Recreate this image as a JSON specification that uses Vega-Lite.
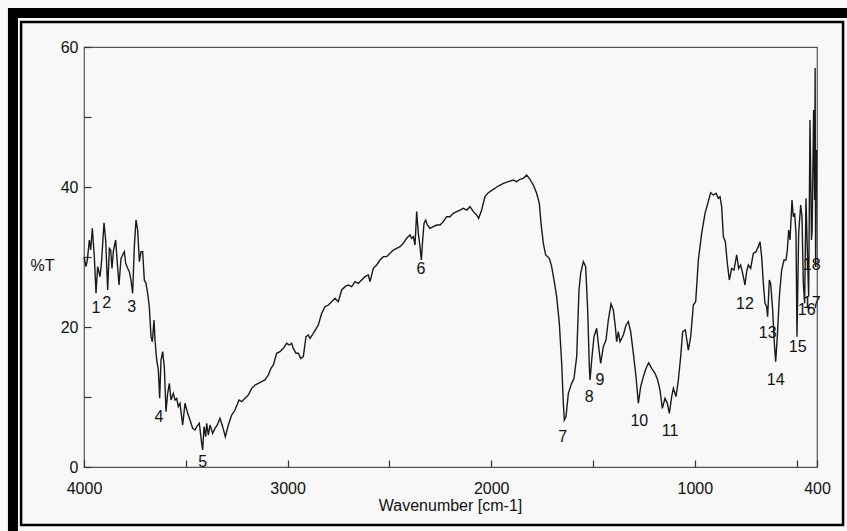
{
  "$schema": "https://vega.github.io/schema/vega-lite/v6.json",
  "width": 733,
  "height": 420,
  "autosize": {"type": "none"},
  "padding": {"left": 84, "top": 47, "right": 30, "bottom": 64},
  "background": "#f8f8f8",
  "config": {
    "font": "Liberation Sans",
    "view": {"stroke": "#555555", "strokeWidth": 1.2, "fill": "#f8f8f8"},
    "axis": {"grid": false, "domain": false, "labelFont": "Liberation Sans", "titleFont": "Liberation Sans", "labelFontSize": 16, "titleFontSize": 16, "titleFontWeight": "normal", "labelColor": "#111111", "titleColor": "#111111", "tickColor": "#333333", "tickWidth": 1.2, "labelFlush": false, "labelOverlap": false}
  },
  "datasets": {
    "spec": [
      {"wn": 4000, "t": 30.0}, {"wn": 3990.2, "t": 28.62}, {"wn": 3983.6, "t": 29.57}, {"wn": 3973.8, "t": 32.43}, {"wn": 3967.2, "t": 31.0},
      {"wn": 3959.1, "t": 34.1}, {"wn": 3949.3, "t": 30.05}, {"wn": 3941.1, "t": 24.81}, {"wn": 3932.9, "t": 28.62}, {"wn": 3921.4, "t": 27.19},
      {"wn": 3913.2, "t": 29.57}, {"wn": 3901.8, "t": 34.9}, {"wn": 3893.6, "t": 32.43}, {"wn": 3883.7, "t": 25.29}, {"wn": 3875.6, "t": 31.24},
      {"wn": 3869.0, "t": 31.0}, {"wn": 3862.5, "t": 28.38}, {"wn": 3856.0, "t": 30.76}, {"wn": 3844.5, "t": 32.43}, {"wn": 3836.3, "t": 29.1},
      {"wn": 3828.1, "t": 26.0}, {"wn": 3818.3, "t": 29.81}, {"wn": 3810.1, "t": 30.29}, {"wn": 3801.9, "t": 30.76}, {"wn": 3795.3, "t": 29.1},
      {"wn": 3785.5, "t": 28.38}, {"wn": 3777.4, "t": 27.9}, {"wn": 3769.2, "t": 26.71}, {"wn": 3761.0, "t": 24.81}, {"wn": 3752.8, "t": 31.48},
      {"wn": 3744.6, "t": 35.29}, {"wn": 3736.4, "t": 33.86}, {"wn": 3728.2, "t": 29.33}, {"wn": 3720.0, "t": 30.76}, {"wn": 3711.9, "t": 30.76},
      {"wn": 3703.7, "t": 26.71}, {"wn": 3695.5, "t": 26.24}, {"wn": 3687.3, "t": 24.81}, {"wn": 3679.2, "t": 22.9}, {"wn": 3670.9, "t": 18.62},
      {"wn": 3664.4, "t": 17.9}, {"wn": 3656.2, "t": 21.0}, {"wn": 3651.3, "t": 18.14}, {"wn": 3643.1, "t": 15.29}, {"wn": 3634.9, "t": 13.86},
      {"wn": 3628.4, "t": 9.81}, {"wn": 3621.8, "t": 15.29}, {"wn": 3613.6, "t": 16.48}, {"wn": 3605.5, "t": 14.33}, {"wn": 3597.3, "t": 7.9},
      {"wn": 3589.1, "t": 10.52}, {"wn": 3580.9, "t": 11.95}, {"wn": 3572.7, "t": 9.57}, {"wn": 3561.3, "t": 10.52}, {"wn": 3553.1, "t": 9.57},
      {"wn": 3544.9, "t": 9.81}, {"wn": 3536.7, "t": 8.62}, {"wn": 3528.5, "t": 9.1}, {"wn": 3515.4, "t": 6.0}, {"wn": 3503.9, "t": 9.1},
      {"wn": 3490.8, "t": 7.67}, {"wn": 3479.4, "t": 6.71}, {"wn": 3466.3, "t": 5.52}, {"wn": 3454.8, "t": 5.29}, {"wn": 3446.6, "t": 5.76},
      {"wn": 3433.6, "t": 6.24}, {"wn": 3422.1, "t": 3.38}, {"wn": 3417.2, "t": 2.43}, {"wn": 3410.6, "t": 5.76}, {"wn": 3402.5, "t": 4.33},
      {"wn": 3397.5, "t": 6.24}, {"wn": 3389.4, "t": 4.57}, {"wn": 3381.2, "t": 6.0}, {"wn": 3368.1, "t": 4.81}, {"wn": 3356.6, "t": 5.52},
      {"wn": 3345.2, "t": 6.0}, {"wn": 3332.1, "t": 6.95}, {"wn": 3319.0, "t": 5.76}, {"wn": 3305.9, "t": 4.33}, {"wn": 3291.1, "t": 6.0},
      {"wn": 3274.8, "t": 7.43}, {"wn": 3258.4, "t": 8.14}, {"wn": 3238.7, "t": 9.57}, {"wn": 3225.6, "t": 9.33}, {"wn": 3209.3, "t": 9.81},
      {"wn": 3192.9, "t": 10.29}, {"wn": 3176.5, "t": 11.24}, {"wn": 3160.2, "t": 11.71}, {"wn": 3143.8, "t": 11.95}, {"wn": 3127.4, "t": 12.19},
      {"wn": 3111.1, "t": 12.43}, {"wn": 3094.7, "t": 13.14}, {"wn": 3081.6, "t": 14.1}, {"wn": 3070.1, "t": 14.57}, {"wn": 3053.7, "t": 16.24},
      {"wn": 3037.4, "t": 16.48}, {"wn": 3021.0, "t": 16.95}, {"wn": 3004.6, "t": 17.67}, {"wn": 2991.5, "t": 17.43}, {"wn": 2980.1, "t": 17.67},
      {"wn": 2971.9, "t": 16.95}, {"wn": 2958.8, "t": 16.24}, {"wn": 2947.3, "t": 16.24}, {"wn": 2935.9, "t": 15.52}, {"wn": 2922.8, "t": 15.76},
      {"wn": 2909.7, "t": 18.62}, {"wn": 2898.2, "t": 18.86}, {"wn": 2890.0, "t": 18.38}, {"wn": 2873.7, "t": 19.1}, {"wn": 2849.1, "t": 20.29},
      {"wn": 2832.8, "t": 21.95}, {"wn": 2816.4, "t": 22.9}, {"wn": 2800.0, "t": 23.14}, {"wn": 2783.6, "t": 23.62}, {"wn": 2767.2, "t": 24.1},
      {"wn": 2750.9, "t": 23.62}, {"wn": 2734.5, "t": 25.29}, {"wn": 2718.1, "t": 25.76}, {"wn": 2701.8, "t": 26.0}, {"wn": 2685.4, "t": 25.76},
      {"wn": 2669.0, "t": 26.48}, {"wn": 2652.7, "t": 26.24}, {"wn": 2636.3, "t": 26.71}, {"wn": 2619.9, "t": 27.19}, {"wn": 2603.6, "t": 27.43},
      {"wn": 2595.4, "t": 26.48}, {"wn": 2579.0, "t": 28.38}, {"wn": 2562.6, "t": 28.86}, {"wn": 2546.3, "t": 29.57}, {"wn": 2529.9, "t": 30.05},
      {"wn": 2513.5, "t": 30.05}, {"wn": 2497.1, "t": 30.52}, {"wn": 2480.8, "t": 31.0}, {"wn": 2464.4, "t": 31.24}, {"wn": 2448.0, "t": 31.48},
      {"wn": 2431.7, "t": 31.95}, {"wn": 2415.3, "t": 32.67}, {"wn": 2398.9, "t": 33.14}, {"wn": 2390.7, "t": 32.67}, {"wn": 2382.5, "t": 32.9},
      {"wn": 2374.3, "t": 31.71}, {"wn": 2366.1, "t": 36.48}, {"wn": 2358.0, "t": 33.38}, {"wn": 2349.8, "t": 31.48}, {"wn": 2343.2, "t": 29.57},
      {"wn": 2336.7, "t": 32.43}, {"wn": 2330.1, "t": 34.81}, {"wn": 2321.9, "t": 35.29}, {"wn": 2313.8, "t": 34.57}, {"wn": 2300.7, "t": 34.1},
      {"wn": 2284.3, "t": 34.33}, {"wn": 2267.9, "t": 34.57}, {"wn": 2251.6, "t": 34.57}, {"wn": 2235.2, "t": 35.05}, {"wn": 2218.8, "t": 35.76},
      {"wn": 2202.5, "t": 35.76}, {"wn": 2186.1, "t": 36.24}, {"wn": 2169.7, "t": 36.48}, {"wn": 2153.4, "t": 36.71}, {"wn": 2137.0, "t": 36.95},
      {"wn": 2120.6, "t": 36.71}, {"wn": 2104.2, "t": 37.19}, {"wn": 2087.9, "t": 36.48}, {"wn": 2071.5, "t": 36.0}, {"wn": 2061.7, "t": 35.52},
      {"wn": 2047.0, "t": 36.71}, {"wn": 2030.6, "t": 38.62}, {"wn": 2014.2, "t": 39.19}, {"wn": 1989.6, "t": 39.67}, {"wn": 1965.1, "t": 40.14},
      {"wn": 1940.5, "t": 40.52}, {"wn": 1916.0, "t": 40.76}, {"wn": 1891.4, "t": 41.0}, {"wn": 1875.0, "t": 40.76}, {"wn": 1858.7, "t": 41.1},
      {"wn": 1842.3, "t": 41.24}, {"wn": 1825.9, "t": 41.71}, {"wn": 1809.6, "t": 41.1}, {"wn": 1793.2, "t": 40.29}, {"wn": 1776.8, "t": 39.1},
      {"wn": 1763.7, "t": 37.67}, {"wn": 1755.5, "t": 34.81}, {"wn": 1744.0, "t": 31.95}, {"wn": 1732.6, "t": 30.29}, {"wn": 1714.6, "t": 29.81},
      {"wn": 1703.1, "t": 28.62}, {"wn": 1691.6, "t": 26.71}, {"wn": 1678.6, "t": 24.33}, {"wn": 1665.5, "t": 20.52}, {"wn": 1654.0, "t": 14.81},
      {"wn": 1645.8, "t": 9.1}, {"wn": 1640.9, "t": 6.71}, {"wn": 1632.7, "t": 7.19}, {"wn": 1621.2, "t": 10.52}, {"wn": 1604.9, "t": 11.95},
      {"wn": 1593.4, "t": 12.67}, {"wn": 1580.3, "t": 15.76}, {"wn": 1568.9, "t": 25.29}, {"wn": 1560.7, "t": 27.67}, {"wn": 1547.6, "t": 29.33},
      {"wn": 1536.1, "t": 28.62}, {"wn": 1526.3, "t": 22.43}, {"wn": 1518.1, "t": 14.33}, {"wn": 1514.8, "t": 12.43}, {"wn": 1505.0, "t": 15.76},
      {"wn": 1495.2, "t": 18.62}, {"wn": 1482.1, "t": 19.81}, {"wn": 1472.3, "t": 17.19}, {"wn": 1462.5, "t": 14.81}, {"wn": 1449.4, "t": 17.19},
      {"wn": 1436.3, "t": 18.14}, {"wn": 1424.8, "t": 21.0}, {"wn": 1411.7, "t": 23.29}, {"wn": 1400.3, "t": 22.43}, {"wn": 1390.4, "t": 20.05},
      {"wn": 1383.9, "t": 17.9}, {"wn": 1375.7, "t": 19.33}, {"wn": 1367.5, "t": 17.9}, {"wn": 1351.1, "t": 18.86}, {"wn": 1338.0, "t": 20.29},
      {"wn": 1326.6, "t": 20.76}, {"wn": 1315.1, "t": 19.33}, {"wn": 1302.0, "t": 16.24}, {"wn": 1288.9, "t": 12.9}, {"wn": 1277.5, "t": 9.1},
      {"wn": 1266.0, "t": 11.48}, {"wn": 1252.9, "t": 12.9}, {"wn": 1239.8, "t": 14.1}, {"wn": 1226.7, "t": 14.9}, {"wn": 1212.0, "t": 14.1},
      {"wn": 1195.6, "t": 13.38}, {"wn": 1182.5, "t": 12.43}, {"wn": 1171.0, "t": 11.0}, {"wn": 1159.6, "t": 8.38}, {"wn": 1146.5, "t": 9.81},
      {"wn": 1135.0, "t": 9.1}, {"wn": 1125.2, "t": 7.67}, {"wn": 1113.7, "t": 10.05}, {"wn": 1105.5, "t": 11.24}, {"wn": 1092.4, "t": 10.05},
      {"wn": 1081.0, "t": 12.43}, {"wn": 1069.5, "t": 15.76}, {"wn": 1059.7, "t": 19.33}, {"wn": 1046.6, "t": 19.57}, {"wn": 1031.9, "t": 16.71},
      {"wn": 1020.4, "t": 18.62}, {"wn": 1007.3, "t": 23.14}, {"wn": 995.8, "t": 23.62}, {"wn": 982.7, "t": 29.57}, {"wn": 966.4, "t": 33.38},
      {"wn": 950.0, "t": 36.24}, {"wn": 938.5, "t": 37.43}, {"wn": 922.2, "t": 39.19}, {"wn": 909.1, "t": 38.86}, {"wn": 896.0, "t": 39.1},
      {"wn": 884.5, "t": 38.38}, {"wn": 876.3, "t": 38.62}, {"wn": 868.2, "t": 37.19}, {"wn": 860.0, "t": 32.9}, {"wn": 850.2, "t": 32.19},
      {"wn": 840.4, "t": 29.1}, {"wn": 830.6, "t": 26.71}, {"wn": 819.1, "t": 28.38}, {"wn": 807.6, "t": 28.14}, {"wn": 794.5, "t": 30.29},
      {"wn": 784.7, "t": 28.38}, {"wn": 774.9, "t": 28.86}, {"wn": 765.1, "t": 27.67}, {"wn": 753.6, "t": 26.0}, {"wn": 745.5, "t": 27.9},
      {"wn": 737.3, "t": 28.86}, {"wn": 725.8, "t": 28.38}, {"wn": 712.7, "t": 30.52}, {"wn": 699.6, "t": 30.76}, {"wn": 688.2, "t": 31.48},
      {"wn": 680.0, "t": 32.19}, {"wn": 671.8, "t": 30.05}, {"wn": 663.6, "t": 26.24}, {"wn": 655.5, "t": 23.38}, {"wn": 647.3, "t": 22.9},
      {"wn": 642.4, "t": 21.48}, {"wn": 634.2, "t": 26.71}, {"wn": 627.6, "t": 26.24}, {"wn": 617.8, "t": 22.43}, {"wn": 609.6, "t": 17.67},
      {"wn": 603.0, "t": 15.05}, {"wn": 594.9, "t": 18.62}, {"wn": 585.0, "t": 24.33}, {"wn": 573.6, "t": 28.14}, {"wn": 562.1, "t": 29.57},
      {"wn": 552.3, "t": 29.57}, {"wn": 545.7, "t": 31.0}, {"wn": 539.2, "t": 33.86}, {"wn": 532.6, "t": 32.43}, {"wn": 522.8, "t": 38.14},
      {"wn": 516.3, "t": 35.76}, {"wn": 509.7, "t": 36.24}, {"wn": 503.2, "t": 33.38}, {"wn": 498.3, "t": 18.62}, {"wn": 490.1, "t": 33.38},
      {"wn": 480.3, "t": 37.43}, {"wn": 473.7, "t": 35.76}, {"wn": 467.2, "t": 26.24}, {"wn": 460.6, "t": 23.38}, {"wn": 454.1, "t": 38.38},
      {"wn": 447.5, "t": 31.0}, {"wn": 441.0, "t": 24.33}, {"wn": 434.4, "t": 49.57}, {"wn": 427.0, "t": 32.43}, {"wn": 423.9, "t": 33.86},
      {"wn": 416.5, "t": 51.0}, {"wn": 411.6, "t": 38.14}, {"wn": 409.2, "t": 57.0}, {"wn": 406.7, "t": 28.57}, {"wn": 401.8, "t": 45.3}
    ],
    "peaks": [
      {"label": "1", "wn": 3941.1, "t": 22.71}, {"label": "2", "wn": 3888.5, "t": 23.38}, {"label": "3", "wn": 3765.7, "t": 22.9},
      {"label": "4", "wn": 3631.6, "t": 7.19}, {"label": "5", "wn": 3417.0, "t": 0.76}, {"label": "6", "wn": 2344.9, "t": 28.24},
      {"label": "7", "wn": 1649.0, "t": 4.24}, {"label": "8", "wn": 1518.3, "t": 10.05}, {"label": "9", "wn": 1465.7, "t": 12.43},
      {"label": "10", "wn": 1272.8, "t": 6.61}, {"label": "11", "wn": 1122.0, "t": 5.19}, {"label": "12", "wn": 753.6, "t": 23.29},
      {"label": "13", "wn": 642.2, "t": 19.19}, {"label": "14", "wn": 602.8, "t": 12.43}, {"label": "15", "wn": 494.8, "t": 17.19},
      {"label": "16", "wn": 450.6, "t": 22.43}, {"label": "17", "wn": 426.1, "t": 23.38}, {"label": "18", "wn": 426.1, "t": 28.86}
    ]
  },
  "encoding": {
    "x": {"type": "quantitative", "scale": {"domain": [4000, 400], "nice": false, "zero": false},
      "axis": {"values": [4000, 3500, 3000, 2500, 2000, 1500, 1000, 500, 400], "format": "d",
        "labelExpr": "(datum.value % 1000 === 0 || datum.value === 400) ? datum.label : ''",
        "tickSize": -7, "labelPadding": 20, "title": "Wavenumber [cm-1]", "titleX": 366, "titleY": 38, "titleBaseline": "middle", "titleAlign": "center"}},
    "y": {"type": "quantitative", "scale": {"domain": [0, 60], "nice": false, "zero": false},
      "axis": {"values": [0, 10, 20, 30, 40, 50, 60],
        "labelExpr": "(datum.value % 20 === 0) ? datum.label : ''",
        "tickSize": -7, "labelPadding": 13, "title": "%T", "titleAngle": 0, "titleX": -42, "titleY": 218, "titleAlign": "center", "titleBaseline": "middle"}}
  },
  "layer": [
    {
      "data": {"values": [{}]},
      "mark": {"type": "rect", "fill": "#ffffff", "fillOpacity": 0, "stroke": "#000000", "strokeWidth": 10, "clip": false},
      "encoding": {"x": {"datum": 4349}, "x2": {"datum": 189}, "y": {"datum": 64.86}, "y2": {"datum": -11.14}}
    },
    {
      "data": {"values": [{}]},
      "mark": {"type": "rect", "fill": "#ffffff", "fillOpacity": 0, "stroke": "#000000", "strokeWidth": 2.5, "clip": false},
      "encoding": {"x": {"datum": 4309}, "x2": {"datum": 272}, "y": {"datum": 63.57}, "y2": {"datum": -8.29}}
    },
    {
      "data": {"name": "spec"},
      "mark": {"type": "line", "color": "#1a1a1a", "strokeWidth": 1.4, "interpolate": "linear"},
      "encoding": {"x": {"field": "wn"}, "y": {"field": "t"}}
    },
    {
      "data": {"name": "peaks"},
      "mark": {"type": "text", "fontSize": 16, "color": "#111111", "align": "center", "baseline": "middle", "font": "Liberation Sans"},
      "encoding": {"x": {"field": "wn"}, "y": {"field": "t"}, "text": {"field": "label"}}
    }
  ]
}
